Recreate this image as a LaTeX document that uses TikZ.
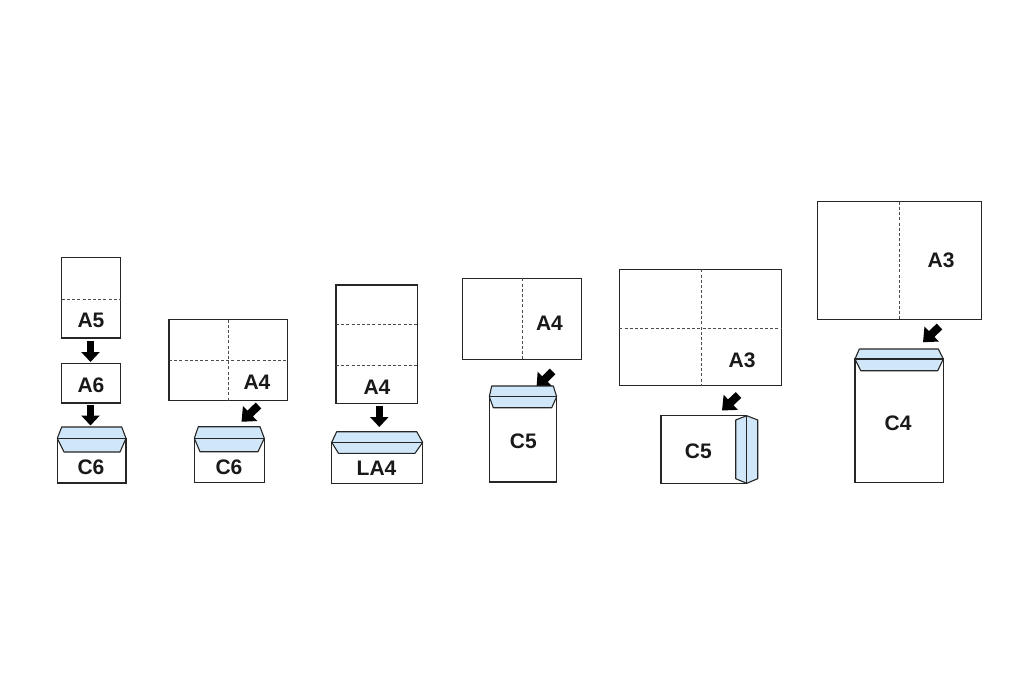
\documentclass[tikz,border=0pt]{standalone}
\usepackage{fontspec}
\setmainfont{Liberation Sans}
\usetikzlibrary{arrows.meta}
\definecolor{flapblue}{HTML}{CFE7F8}
\tikzset{
  paper/.style={draw=black!85, line width=1.2pt, fill=white},
  fold/.style={draw=black!70, line width=1pt, dash pattern=on 3pt off 2.2pt},
  flap/.style={draw=black!85, line width=1.1pt, fill=flapblue, line join=round},
  edge/.style={draw=black!85, line width=1.1pt},
  lbl/.style={inner sep=0pt, font=\fontsize{21}{22}\selectfont\bfseries, text=black!90},
  blockarrow/.style={line width=7.5pt, -{Triangle[length=10pt,width=18pt]}, black},
  diagarrow/.style={line width=8pt, -{Triangle[length=12pt,width=20pt]}, black},
}
\begin{document}
\begin{tikzpicture}[x=1pt,y=-1pt]
\useasboundingbox (0,0) rectangle (1024,683);
\fill[white] (0,0) rectangle (1024,683);

% ---------- Group 1: A5 -> A6 -> C6 ----------
\draw[paper] (61.7,257.5) rectangle (120.7,338);
\draw[fold] (61.7,299) -- (120.7,299);
\node[lbl] (g1a5) at (91,320.5) {A5};
\coordinate (g1a1s) at (90.5,341);
\coordinate (g1a1e) at (90.5,362);
\draw[blockarrow] (g1a1s) -- (g1a1e);
\draw[paper] (61.7,363.5) rectangle (120.7,403);
\node[lbl] (g1a6) at (91,385) {A6};
\coordinate (g1a2s) at (90.5,405);
\coordinate (g1a2e) at (90.5,425.5);
\draw[blockarrow] (g1a2s) -- (g1a2e);
\draw[paper] (57.3,438.3) rectangle (126,483);
\draw[flap] (61.7,427) -- (121.7,427) -- (126,438.3) -- (120,452) -- (64,452) -- (57.3,438.3) -- cycle;
\draw[edge] (57.3,438.3) -- (126,438.3);
\node[lbl] (g1c6) at (91,467) {C6};

% ---------- Group 2: A4 -> C6 ----------
\draw[paper] (169,319.5) rectangle (287.7,400.5);
\draw[fold] (228.3,319.5) -- (228.3,400.5);
\draw[fold] (169,360) -- (287.7,360);
\node[lbl] (g2a4) at (257,382) {A4};
\coordinate (g2as) at (258.5,405.5);
\coordinate (g2ae) at (241.5,421.8);
\draw[diagarrow] (g2as) -- (g2ae);
\draw[paper] (194.3,438.3) rectangle (264.3,482.7);
\draw[flap] (198.3,426.7) -- (260,426.7) -- (264.3,438.3) -- (258,451.7) -- (200,451.7) -- (194.3,438.3) -- cycle;
\draw[edge] (194.3,438.3) -- (264.3,438.3);
\node[lbl] (g2c6) at (229,467) {C6};

% ---------- Group 3: A4 -> LA4 ----------
\draw[paper] (336,285) rectangle (417.7,403.3);
\draw[fold] (336,324.3) -- (417.7,324.3);
\draw[fold] (336,365) -- (417.7,365);
\node[lbl] (g3a4) at (377,387) {A4};
\coordinate (g3as) at (379.3,406);
\coordinate (g3ae) at (379.3,427);
\draw[blockarrow] (g3as) -- (g3ae);
\draw[paper] (331.7,442.3) rectangle (422.7,483.3);
\draw[flap] (336.7,431.7) -- (416.7,431.7) -- (422.7,442.3) -- (415,453.3) -- (338.5,453.3) -- (331.7,442.3) -- cycle;
\draw[edge] (331.7,442.3) -- (422.7,442.3);
\node[lbl] (g3la4) at (376.5,468.3) {LA4};

% ---------- Group 4: A4 -> C5 ----------
\draw[paper] (462.3,278.3) rectangle (581.7,359.3);
\draw[fold] (522.7,278.3) -- (522.7,359.3);
\node[lbl] (g4a4) at (549.5,323.3) {A4};
\coordinate (g4as) at (552.5,371.5);
\coordinate (g4ae) at (536.5,387.5);
\draw[diagarrow] (g4as) -- (g4ae);
\draw[paper] (489.3,396.7) rectangle (556.7,482);
\draw[flap] (491.7,386) -- (553.3,386) -- (556.7,396.7) -- (551.7,407.7) -- (493.3,407.7) -- (489.3,396.7) -- cycle;
\draw[edge] (489.3,396.7) -- (556.7,396.7);
\node[lbl] (g4c5) at (523.3,441.7) {C5};

% ---------- Group 5: A3 -> C5 (landscape) ----------
\draw[paper] (619.3,269.3) rectangle (781.7,385.7);
\draw[fold] (701,269.3) -- (701,385.7);
\draw[fold] (619.3,328.3) -- (781.7,328.3);
\node[lbl] (g5a3) at (742,360) {A3};
\coordinate (g5as) at (738.5,395);
\coordinate (g5ae) at (722,410.5);
\draw[diagarrow] (g5as) -- (g5ae);
\draw[paper] (661,415.7) rectangle (746.7,483.3);
\draw[flap] (735.7,420) -- (746.7,415.7) -- (757.7,420) -- (757.7,478.7) -- (746.7,483.3) -- (735.7,478.7) -- cycle;
\draw[edge] (746.7,415.7) -- (746.7,483.3);
\node[lbl] (g5c5) at (698.3,451.7) {C5};

% ---------- Group 6: A3 -> C4 ----------
\draw[paper] (817.3,201.7) rectangle (981.7,319.3);
\draw[fold] (899.3,201.7) -- (899.3,319.3);
\node[lbl] (g6a3) at (941,260) {A3};
\coordinate (g6as) at (939.5,326.5);
\coordinate (g6ae) at (923,342.3);
\draw[diagarrow] (g6as) -- (g6ae);
\draw[paper] (855,359) rectangle (943.3,482.3);
\draw[flap] (859.3,349) -- (938.3,349) -- (943.3,359) -- (937.7,370.7) -- (860.7,370.7) -- (855,359) -- cycle;
\draw[edge] (855,359) -- (943.3,359);
\node[lbl] (g6c4) at (898,423.7) {C4};
\end{tikzpicture}
\end{document}
